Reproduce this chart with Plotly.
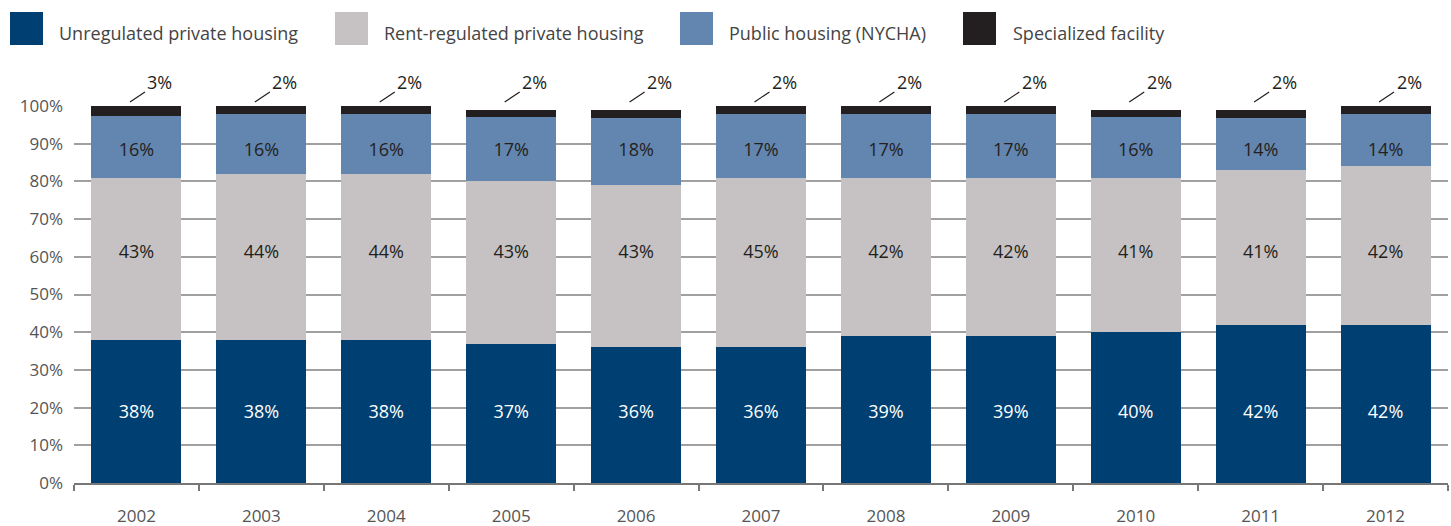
import plotly.graph_objects as go

years = ["2002", "2003", "2004", "2005", "2006", "2007", "2008", "2009", "2010", "2011", "2012"]

unregulated = [38, 38, 38, 37, 36, 36, 39, 39, 40, 42, 42]
rent_regulated = [43, 44, 44, 43.2, 43, 45, 42, 42, 41, 41, 42]
public = [16.3, 15.9, 15.9, 16.9, 17.8, 16.9, 16.9, 16.9, 16.1, 13.8, 13.9]
specialized = [2.7, 2.1, 2.1, 1.8, 2.1, 2.1, 2.1, 2.1, 1.8, 2.1, 2.1]

# printed labels
unregulated_lbl = ["38%", "38%", "38%", "37%", "36%", "36%", "39%", "39%", "40%", "42%", "42%"]
rent_lbl = ["43%", "44%", "44%", "43%", "43%", "45%", "42%", "42%", "41%", "41%", "42%"]
public_lbl = ["16%", "16%", "16%", "17%", "18%", "17%", "17%", "17%", "16%", "14%", "14%"]
special_lbl = ["3%", "2%", "2%", "2%", "2%", "2%", "2%", "2%", "2%", "2%", "2%"]

series_names = ["Unregulated private housing", "Rent-regulated private housing",
                "Public housing (NYCHA)", "Specialized facility"]
colors = ["#003F72", "#C6C2C3", "#6386B0", "#231F20"]

W, H = 1451, 526
ML, MR, MT, MB = 74, 3, 106, 43
PW, PH = W - ML - MR, H - MT - MB
FONT = "Open Sans"

fig = go.Figure()
for name, vals, col in zip(series_names, [unregulated, rent_regulated, public, specialized], colors):
    fig.add_trace(go.Bar(x=years, y=vals, name=name, marker=dict(color=col, line=dict(width=0)),
                         showlegend=False, hoverinfo="x+y+name"))

# inner labels at fixed heights
label_sets = [(unregulated_lbl, 18.4, "white"), (rent_lbl, 60.9, "#231F20"), (public_lbl, 87.9, "#231F20")]
for lbls, ypos, col in label_sets:
    fig.add_trace(go.Scatter(x=years, y=[ypos] * len(years), mode="text", text=lbls,
                             textfont=dict(family=FONT, size=18, color=col),
                             showlegend=False, hoverinfo="skip"))

# specialized labels with leader lines (category index used for annotation position)
for i, lbl in enumerate(special_lbl):
    fig.add_annotation(x=i, y=99.5, xref="x", yref="y", text=lbl, showarrow=True,
                       arrowhead=0, arrowwidth=1.2, arrowcolor="#231F20",
                       xshift=-6.5, yshift=5.9, ax=30, ay=-20, borderpad=2,
                       font=dict(family=FONT, size=18, color="#231F20"))

# custom legend
def px_x(x):
    return (x - ML) / PW

def px_y(y):
    return (H - MB - y) / PH

legend_pos = [(10, 57), (335, 382), (680, 727), (963, 1011)]
for (sx, tx), name, col in zip(legend_pos, series_names, colors):
    fig.add_shape(type="rect", xref="paper", yref="paper",
                  x0=px_x(sx), x1=px_x(sx + 33), y0=px_y(45), y1=px_y(12),
                  fillcolor=col, line=dict(width=0))
    fig.add_annotation(xref="paper", yref="paper", x=px_x(tx), y=px_y(33), text=name,
                       showarrow=False, xanchor="left", yanchor="middle",
                       font=dict(family=FONT, size=18, color="#444444"))

fig.update_layout(
    width=W, height=H,
    margin=dict(l=ML, r=MR, t=MT, b=MB, pad=0, autoexpand=False),
    barmode="stack", bargap=0.28,
    plot_bgcolor="white", paper_bgcolor="white",
    font=dict(family=FONT, color="#555555"),
    xaxis=dict(type="category", range=[-0.5, len(years) - 0.5], showgrid=False,
               showline=True, linecolor="#777777", linewidth=1.5,
               ticks="outside", tickson="boundaries", ticklen=6, tickcolor="#777777",
               tickwidth=1.5, tickfont=dict(size=17, color="#555555"), tickangle=0,
               ticklabelstandoff=17, automargin=False),
    yaxis=dict(range=[0, 100], tickvals=list(range(0, 101, 10)),
               ticktext=[f"{v}%" for v in range(0, 101, 10)],
               showgrid=True, gridcolor="#A0A0A0", gridwidth=1.5,
               zeroline=False, showline=False, ticks="", automargin=False,
               tickfont=dict(size=17, color="#555555"), ticklabelstandoff=10),
)

fig.write_html("out.html", config={"displayModeBar": False},
               post_script="document.body.style.margin='0px';")
